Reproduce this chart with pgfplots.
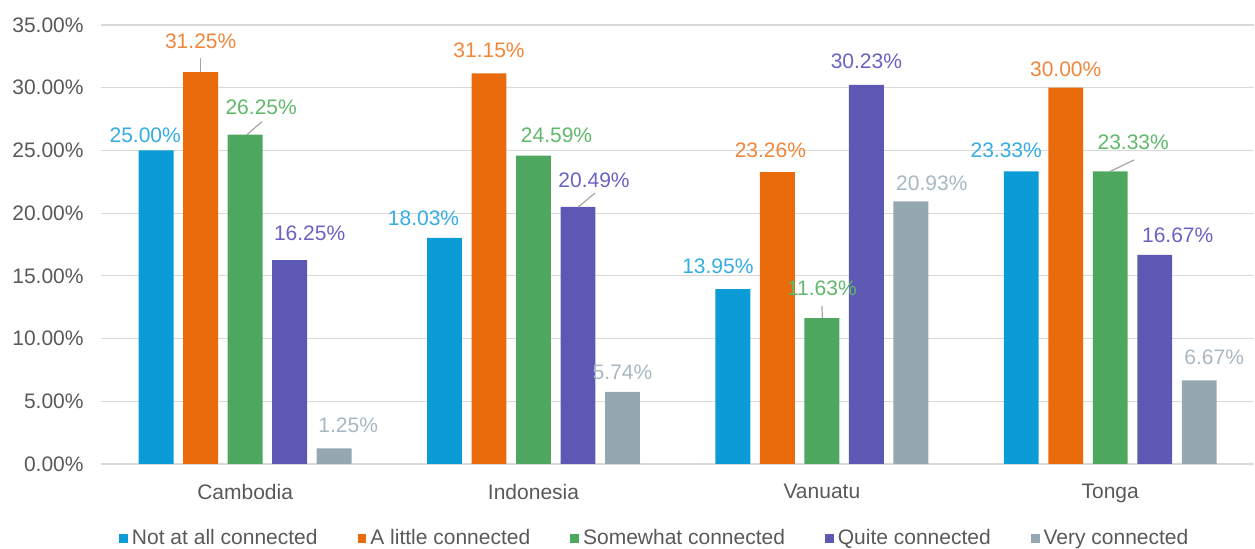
\documentclass[border=0pt]{standalone}
\usepackage{fontspec}
\setmainfont{Liberation Sans}
\usepackage{pgfplots}
\usepackage{pgfplotstable}
\pgfplotsset{compat=1.18}

\definecolor{cblue}{HTML}{0B9BD6}
\definecolor{corange}{HTML}{EA6B0B}
\definecolor{cgreen}{HTML}{4EA75E}
\definecolor{cpurple}{HTML}{5D58B4}
\definecolor{cgray}{HTML}{95A7B1}
\definecolor{lblue}{HTML}{35ADE2}
\definecolor{lorange}{HTML}{F0863A}
\definecolor{lgreen}{HTML}{5FB86B}
\definecolor{lpurple}{HTML}{6A63C2}
\definecolor{lgray}{HTML}{A8B8C2}
\definecolor{txt}{HTML}{595959}
\definecolor{gridc}{HTML}{D9D9D9}
\definecolor{leader}{HTML}{A6A6A6}

% x: 0 Cambodia, 1 Indonesia, 2 Vanuatu, 3 Tonga; dx, dy: label offset (pt)
\pgfplotstableread{
x y dx dy
0 25.00 -5.5 7.5
1 18.03 -10.5 10
2 13.95 -7.5 11.25
3 23.33 -7.5 10.75
}\notatall
\pgfplotstableread{
x y dx dy
0 31.25 0 15.5
1 31.15 0 11.75
2 23.26 -3.5 10.75
3 30.00 0 9
}\alittle
\pgfplotstableread{
x y dx dy
0 26.25 8 13.5
1 24.59 11.5 10
2 11.63 0 14.75
3 23.33 11.5 14.75
}\somewhat
\pgfplotstableread{
x y dx dy
0 16.25 10 13.5
1 20.49 8 13.5
2 30.23 0 11.75
3 16.67 11.5 10
}\quite
\pgfplotstableread{
x y dx dy
0 1.25 7 11.5
1 5.74 0 10
2 20.93 10.5 9
3 6.67 7.5 11.75
}\very

\newcommand{\pitch}{0.1543}

\begin{document}
\fontsize{10.5}{12}\selectfont
\begin{tikzpicture}
\begin{axis}[
    scale only axis,
    width=576.7pt, height=219.5pt,
    xmin=-0.5, xmax=3.5,
    ymin=0, ymax=35,
    ybar, bar width=0.121,
    xtick={0,1,2,3},
    xticklabels={Cambodia,Indonesia,Vanuatu,Tonga},
    ytick={0,5,...,35},
    /pgf/number format/assume math mode=true,
    yticklabel={\pgfmathprintnumber[fixed,fixed zerofill,precision=2]{\tick}\%},
    tick label style={font=\fontsize{10.5}{12}\selectfont, text=txt},
    major tick length=0pt,
    axis line style={draw=none},
    ymajorgrids,
    grid style={gridc, line width=0.6pt},
    yticklabel style={xshift=-5pt},
    xticklabel style={yshift=-6.5pt},
    point meta=y,
    visualization depends on={\thisrow{dx} \as \dx},
    visualization depends on={\thisrow{dy} \as \dy},
    nodes near coords={\pgfmathprintnumber[fixed,fixed zerofill,precision=2]{\pgfplotspointmeta}\%},
    nodes near coords style={anchor=center, xshift=\dx pt, yshift=\dy pt,
        font=\fontsize{10.5}{12}\selectfont},
    legend columns=5,
    legend style={at={(0.481,-0.169)}, anchor=center, draw=none, fill=none,
        font=\fontsize{10.5}{12}\selectfont, text=txt,
        /tikz/every even column/.append style={column sep=18pt}},
    legend image code/.code={\fill[#1] (0pt,-2.2pt) rectangle (4.4pt,2.2pt);},
]
\addplot[fill=cblue, draw=none, bar shift=-2*\pitch,
    nodes near coords style={text=lblue}] table {\notatall};
\addplot[fill=corange, draw=none, bar shift=-\pitch,
    nodes near coords style={text=lorange}] table {\alittle};
\addplot[fill=cgreen, draw=none, bar shift=0,
    nodes near coords style={text=lgreen}] table {\somewhat};
\addplot[fill=cpurple, draw=none, bar shift=\pitch,
    nodes near coords style={text=lpurple}] table {\quite};
\addplot[fill=cgray, draw=none, bar shift=2*\pitch,
    nodes near coords style={text=lgray}] table {\very};
\legend{Not at all connected, A little connected, Somewhat connected, Quite connected, Very connected}

% leader lines for displaced labels
\draw[leader, line width=0.6pt] (axis cs:-0.1543,31.25) -- (axis cs:-0.1543,32.37);
\draw[leader, line width=0.6pt] (axis cs:0.006,26.25) -- (axis cs:0.058,27.29);
\draw[leader, line width=0.6pt] (axis cs:1.155,20.49) -- (axis cs:1.214,21.61);
\draw[leader, line width=0.6pt] (axis cs:2.002,11.63) -- (axis cs:2.0,12.60);
\draw[leader, line width=0.6pt] (axis cs:3.0,23.33) -- (axis cs:3.083,24.24);
\end{axis}
\pgfresetboundingbox
\path (-50.5pt,-42.5pt) rectangle (577pt,232pt);
\end{tikzpicture}
\end{document}
